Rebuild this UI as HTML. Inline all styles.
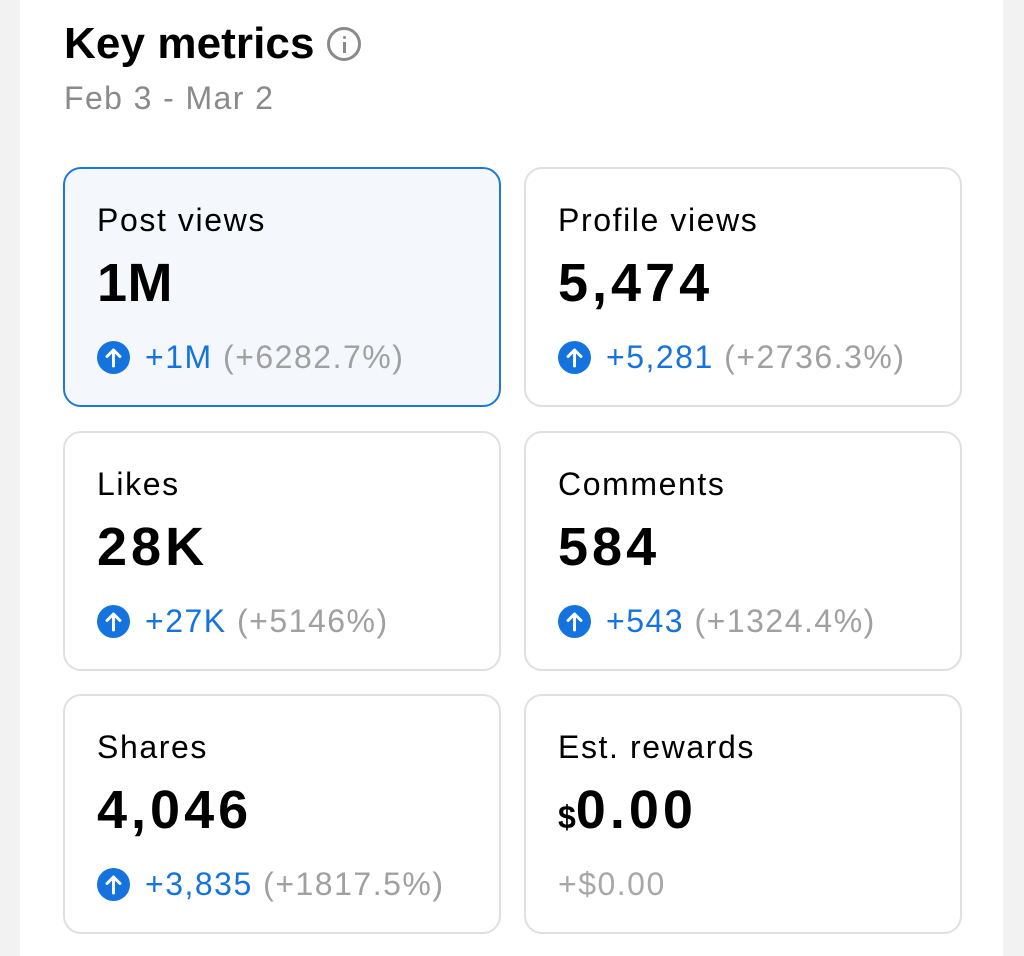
<!DOCTYPE html>
<html><head><meta charset="utf-8"><style>
*{margin:0;padding:0;box-sizing:border-box}
body{width:1024px;height:956px;background:#f2f2f2;font-family:"Liberation Sans",sans-serif;position:relative;overflow:hidden}
.panel{position:absolute;left:20px;top:0;width:983px;height:956px;background:#fff}
.t{position:absolute;line-height:1;white-space:nowrap}
.title{left:64px;top:22px;font-size:44px;font-weight:bold;color:#000;letter-spacing:0.1px}
.info{position:absolute;left:327px;top:27px;width:34px;height:34px;border:3px solid #8a8a8a;border-radius:50%}
.info:before{content:"";position:absolute;left:12.5px;top:6px;width:3px;height:3px;background:#8a8a8a;border-radius:50%}
.info:after{content:"";position:absolute;left:12.5px;top:12px;width:3px;height:11px;background:#8a8a8a}
.date{left:64px;top:82px;font-size:32px;color:#8a8a8a;letter-spacing:1.4px}
.card{position:absolute;width:438px;height:240px;border:2px solid #e0e0e0;border-radius:18px;background:#fff}
.card.sel{background:#f4f8fd;border-color:#1a78e0}
.lab{left:32px;top:35px;font-size:32px;color:#000;letter-spacing:1.6px}
.big{left:32px;top:87px;font-size:54px;font-weight:bold;color:#000;letter-spacing:4px}
.big small{font-size:32px;letter-spacing:0}
.ch{left:80px;top:172px;font-size:32px;color:#1473df;letter-spacing:1.5px}
.ch span{color:#a0a0a0}
.circ{position:absolute;left:32px;top:172px;width:33px;height:33px;border-radius:50%;background:#1473df}
.circ svg{position:absolute;left:0;top:0}
.gray{left:32px;top:172px;font-size:32px;color:#a8a8a8;letter-spacing:1.5px}
</style></head><body>
<div class="panel"></div>
<div class="t title">Key metrics</div>
<div class="info"></div>
<div class="t date">Feb 3 - Mar 2</div>

<div class="card sel" style="left:63px;top:167px">
<div class="t lab">Post views</div><div class="t big" style="letter-spacing:0.5px">1M</div>
<div class="circ"><svg width="33" height="33"><path d="M16.5 25V9M10 15.5l6.5-6.5 6.5 6.5" stroke="#fff" stroke-width="3" fill="none" stroke-linecap="round" stroke-linejoin="round"/></svg></div>
<div class="t ch">+1M <span>(+6282.7%)</span></div></div>

<div class="card" style="left:524px;top:167px">
<div class="t lab">Profile views</div><div class="t big">5,474</div>
<div class="circ"><svg width="33" height="33"><path d="M16.5 25V9M10 15.5l6.5-6.5 6.5 6.5" stroke="#fff" stroke-width="3" fill="none" stroke-linecap="round" stroke-linejoin="round"/></svg></div>
<div class="t ch">+5,281 <span>(+2736.3%)</span></div></div>

<div class="card" style="left:63px;top:431px">
<div class="t lab">Likes</div><div class="t big">28K</div>
<div class="circ"><svg width="33" height="33"><path d="M16.5 25V9M10 15.5l6.5-6.5 6.5 6.5" stroke="#fff" stroke-width="3" fill="none" stroke-linecap="round" stroke-linejoin="round"/></svg></div>
<div class="t ch">+27K <span>(+5146%)</span></div></div>

<div class="card" style="left:524px;top:431px">
<div class="t lab">Comments</div><div class="t big">584</div>
<div class="circ"><svg width="33" height="33"><path d="M16.5 25V9M10 15.5l6.5-6.5 6.5 6.5" stroke="#fff" stroke-width="3" fill="none" stroke-linecap="round" stroke-linejoin="round"/></svg></div>
<div class="t ch">+543 <span>(+1324.4%)</span></div></div>

<div class="card" style="left:63px;top:694px">
<div class="t lab">Shares</div><div class="t big">4,046</div>
<div class="circ"><svg width="33" height="33"><path d="M16.5 25V9M10 15.5l6.5-6.5 6.5 6.5" stroke="#fff" stroke-width="3" fill="none" stroke-linecap="round" stroke-linejoin="round"/></svg></div>
<div class="t ch">+3,835 <span>(+1817.5%)</span></div></div>

<div class="card" style="left:524px;top:694px">
<div class="t lab">Est. rewards</div><div class="t big"><small>$</small>0.00</div>
<div class="t gray">+$0.00</div></div>
</body></html>
